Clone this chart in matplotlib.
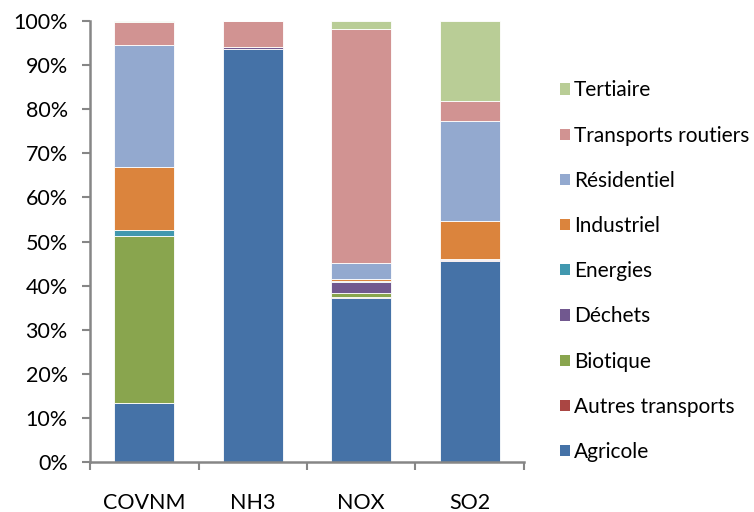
import matplotlib
matplotlib.use("Agg")
import matplotlib.pyplot as plt
import numpy as np
from matplotlib.patches import Patch

categories = ["COVNM", "NH3", "NOX", "SO2"]
sectors = ["Agricole", "Autres transports", "Biotique", "Déchets", "Energies",
           "Industriel", "Résidentiel", "Transports routiers", "Tertiaire"]
agricole = [13.3, 93.6, 37.3, 45.6]
autres_transports = [0.0, 0.0, 0.1, 0.1]
biotique = [38.0, 0.0, 0.9, 0.0]
dechets = [0.0, 0.4, 2.6, 0.3]
energies = [1.4, 0.0, 0.1, 0.0]
industriel = [14.1, 0.0, 0.5, 8.6]
residentiel = [27.7, 0.0, 3.7, 22.7]
transports_routiers = [5.3, 6.0, 53.0, 4.5]
tertiaire = [0.2, 0.0, 1.8, 18.2]
series = [agricole, autres_transports, biotique, dechets, energies,
          industriel, residentiel, transports_routiers, tertiaire]
colors = ["#4572A7", "#AA4643", "#89A54E", "#71588F", "#4198AF",
          "#DB843D", "#93A9CF", "#D19392", "#B9CD96"]
yticks = [0, 10, 20, 30, 40, 50, 60, 70, 80, 90, 100]

plt.rcParams['font.family'] = ['Lato', 'DejaVu Sans']
fig = plt.figure(figsize=(7.54, 5.12), dpi=100)
ax = fig.add_axes([90/754, 50/512, 434/754, 441/512])

x = np.arange(len(categories))
bottom = np.zeros(len(categories))
for vals, col, name in zip(series, colors, sectors):
    v = np.array(vals, dtype=float)
    ax.bar(x, v, 0.55, bottom=bottom, color=col, edgecolor="white", linewidth=0.6, label=name)
    bottom += v

ax.set_xlim(-0.5, len(categories) - 0.5)
ax.set_ylim(0, 100)
ax.set_yticks(yticks)
ax.set_yticklabels([f"{t}%" for t in yticks])
ax.set_xticks(x)
ax.set_xticklabels(categories)
ax.set_xticks(np.arange(-0.5, len(categories), 1.0), minor=True)
ax.tick_params(axis='x', which='major', length=0, pad=22, labelsize=15.5)
ax.tick_params(axis='x', which='minor', length=6, width=1.5, color="#868686", direction='out')
ax.tick_params(axis='y', length=6, width=1.5, color="#868686", pad=10, labelsize=15.5, direction='out')
for s in ["top", "right"]:
    ax.spines[s].set_visible(False)
for s in ["left", "bottom"]:
    ax.spines[s].set_color("#868686")
    ax.spines[s].set_linewidth(1.8)

handles = [Patch(facecolor=c, edgecolor="none") for c in colors][::-1]
labels = sectors[::-1]
fig.legend(handles, labels, loc="upper left", bbox_to_anchor=(552/754, 1 - 72/512),
           frameon=False, fontsize=15, handlelength=0.45, handleheight=0.45,
           handletextpad=0.2, labelspacing=1.21, borderaxespad=0)

fig.savefig("out.png", dpi=100)
